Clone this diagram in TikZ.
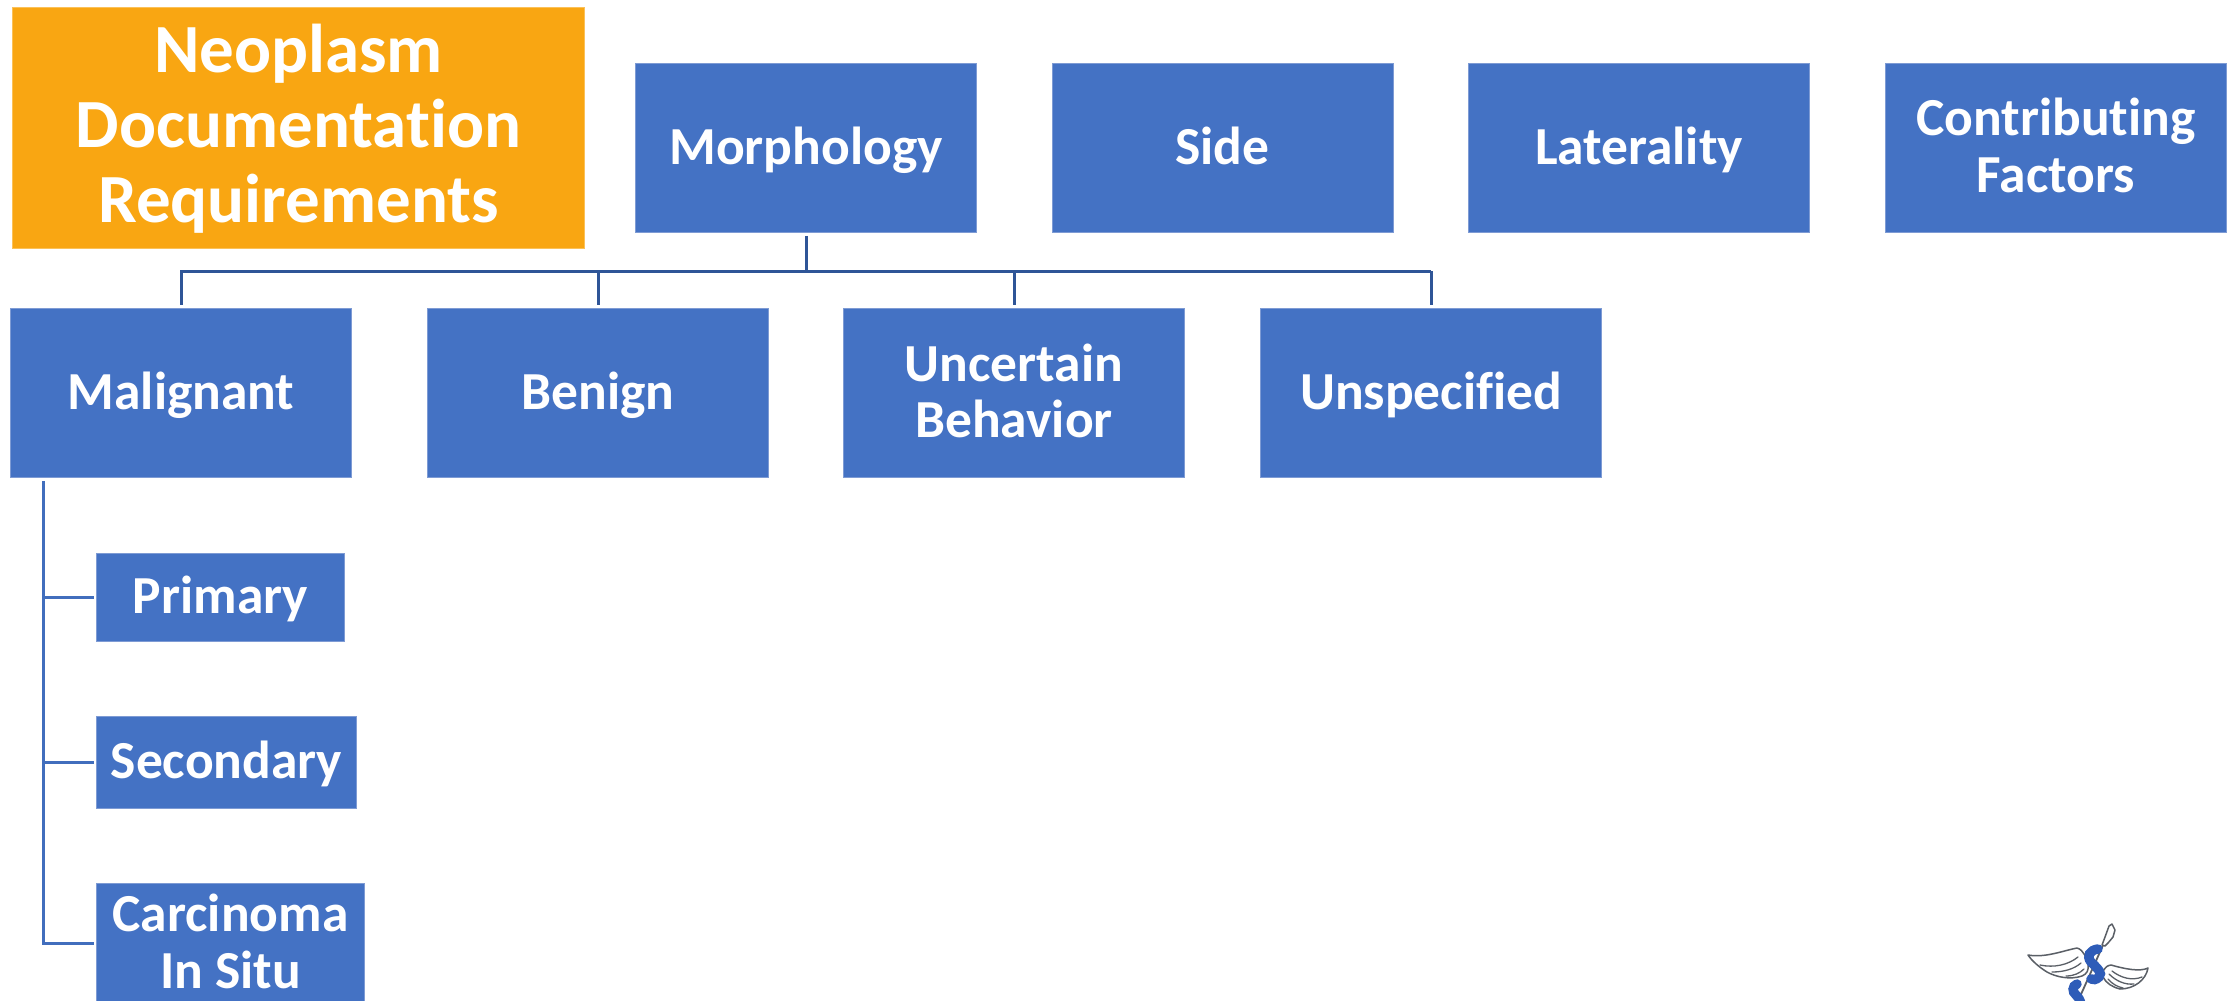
\documentclass[tikz,border=0pt]{standalone}
\usepackage{fontspec}
\setmainfont{Carlito}[Ligatures=NoCommon]
\definecolor{boxblue}{HTML}{4472C4}
\definecolor{boxedge}{HTML}{7E9BD4}
\definecolor{orangebox}{HTML}{F9A612}
\definecolor{busblue}{HTML}{2F5597}
\definecolor{feather}{HTML}{5A5F66}
\definecolor{snakeblue}{HTML}{2E5CB8}
% one line of text, centred on the node, its baseline #1 pt below the node's centre
\newcommand{\txtline}[2]{\raisebox{-#1pt}[0pt][0pt]{\makebox[0pt][c]{#2}}}
\tikzset{
  x=1pt,y=-1pt,
  bx/.style={rectangle,fill=boxblue,draw=boxedge,line width=0.8pt,inner sep=0pt,text=white,
    font=\fontsize{53.5}{57}\selectfont\bfseries},
  big/.style={bx,minimum width=341pt,minimum height=169pt},
  orangehead/.style={bx,fill=orangebox,draw=orangebox!70!white,minimum width=572pt,minimum height=241pt,
    font=\fontsize{69}{75}\selectfont\bfseries},
  bus/.style={draw=busblue,line width=3pt},
  leftline/.style={draw=boxblue!85!busblue,line width=3pt},
  wing/.style={draw=feather,line width=1.5pt,line cap=round,line join=round,fill=white},
  plume/.style={draw=feather,line width=1.3pt,line cap=round},
  serpent/.style={draw=snakeblue,line width=9.5pt,line cap=round},
}
\begin{document}
\begin{tikzpicture}
\useasboundingbox (0,0) rectangle (2236,1001);
\fill[white] (0,0) rectangle (2236,1001);
\node[orangehead] (title) at (298.5,127.5) {\txtline{-54.8}{Neoplasm}\txtline{19.8}{Documentation}\txtline{95.2}{Requirements}};
\node[big] (morph) at (806,148) {\txtline{16.8}{Morphology}};
\node[big] (side) at (1222.5,148) {\txtline{16.8}{Side}};
\node[big] (lat) at (1639,148) {\txtline{16.8}{Laterality}};
\node[big] (contrib) at (2056,148) {\txtline{-13}{Contributing}\txtline{44}{Factors}};
\node[big] (malig) at (181,393) {\txtline{16.8}{Malignant}};
\node[big] (benign) at (598,393) {\txtline{16.8}{Benign}};
\node[big] (uncert) at (1014,393) {\txtline{-12}{Uncertain}\txtline{44}{Behavior}};
\node[big] (unspec) at (1431,393) {\txtline{16.8}{Unspecified}};
\node[bx,minimum width=248pt,minimum height=88pt] (prim) at (220.5,597) {\txtline{16.5}{Primary}};
\node[bx,minimum width=260pt,minimum height=92pt] (sec) at (226.5,762) {\txtline{16.5}{Secondary}};
\node[bx,minimum width=268pt,minimum height=118pt] (carc) at (230.5,942) {\txtline{-11}{Carcinoma}\txtline{46.5}{In Situ}};
% bus below Morphology
\coordinate (busm) at (806,271);
\coordinate (b1) at (181,271);
\coordinate (b2) at (598,271);
\coordinate (b3) at (1014,271);
\coordinate (b4) at (1431,271);
\draw[bus,shorten <=3pt] (morph.south) -- (busm);
\draw[bus,shorten >=3pt] (b4 |- busm) -- (b4 |- unspec.north);
\draw[bus,shorten >=3pt] (b3) -- (b3 |- uncert.north);
\draw[bus,shorten >=3pt] (b2) -- (b2 |- benign.north);
\draw[bus,shorten >=3pt,line join=miter] (b4) -- (b1) -- (b1 |- malig.north);
% tree below Malignant
\coordinate (top) at (43,481);
\coordinate (bend) at (43,943);
\draw[leftline,line join=miter,shorten >=2pt] (top) -- (bend) -- (prim.west |- bend);
\draw[leftline,shorten >=2pt] (top |- prim.west) -- (prim.west);
\draw[leftline,shorten >=2pt] (top |- sec.west) -- (sec.west);
% logo
\begin{scope}
\clip (1960,901) rectangle (2236,1001);
% left wing
\draw[wing] (2028,955) .. controls (2045,958) and (2062,951) .. (2077,948)
  .. controls (2084,950) and (2086,958) .. (2088,964)
  .. controls (2089,970) and (2087,974) .. (2082,976)
  .. controls (2070,980) and (2056,977) .. (2047,972)
  .. controls (2039,967) and (2032,961) .. (2028,955) -- cycle;
\draw[plume] (2040,965) .. controls (2054,968) and (2068,965) .. (2078,957);
\draw[plume] (2052,972) .. controls (2064,972) and (2074,969) .. (2081,963);
\draw[plume] (2066,976) .. controls (2074,976) and (2080,973) .. (2084,969);
% right wing
\draw[wing] (2148,968) .. controls (2140,972) and (2125,969) .. (2111,965)
  .. controls (2104,966) and (2102,972) .. (2103,977)
  .. controls (2106,983) and (2112,987) .. (2120,989)
  .. controls (2134,989) and (2146,980) .. (2148,968) -- cycle;
\draw[plume] (2142,977) .. controls (2132,981) and (2121,978) .. (2112,971);
\draw[plume] (2134,984) .. controls (2125,985) and (2116,981) .. (2109,974);
\draw[plume] (2123,988) .. controls (2118,987) and (2112,984) .. (2108,979);
% staff
\draw[feather,line width=1.8pt] (2104,943) -- (2078,1001);
\draw[feather,line width=1.5pt,fill=white,line join=round]
  (2102,945) -- (2105,937) -- (2109,926) -- (2112,924) -- (2115,930) -- (2113,937) -- (2108,943) -- (2105,946) -- cycle;
% serpent
\draw[serpent] (2098,949) .. controls (2090,950) and (2086,956) .. (2091,962)
  .. controls (2097,968) and (2103,973) .. (2099,977) .. controls (2096,980) and (2093,980) .. (2091,979);
\draw[serpent] (2077,984) .. controls (2072,986) and (2072,992) .. (2076,995)
  .. controls (2079,998) and (2080,1000) .. (2081,1004);
\end{scope}
\end{tikzpicture}
\end{document}
